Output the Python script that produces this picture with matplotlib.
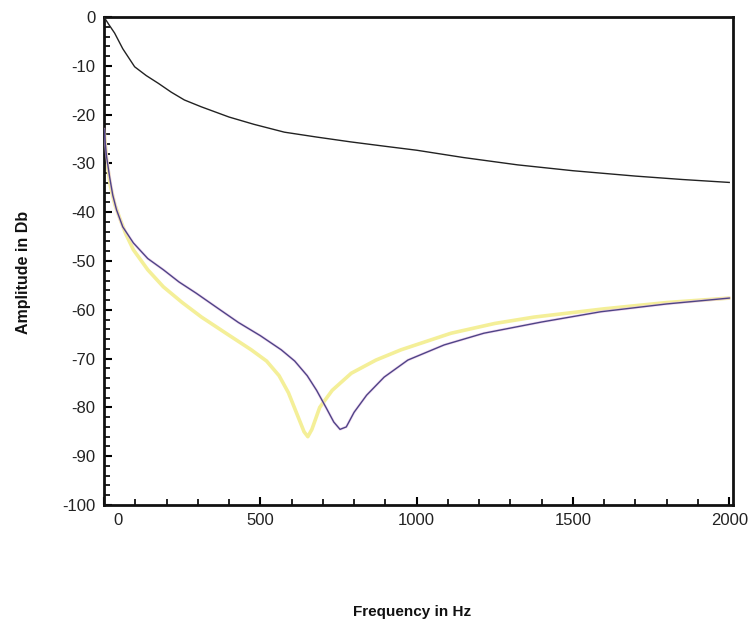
import matplotlib
matplotlib.use("Agg")
import matplotlib.pyplot as plt
from matplotlib.ticker import MultipleLocator
import matplotlib.transforms as mtransforms

plt.rcParams["axes.unicode_minus"] = False

# Black curve
black_f = [0, 15, 34, 60, 98, 135, 174, 215, 257, 311, 400, 480, 577, 680, 790, 900, 1000, 1150, 1323, 1500, 1700, 1850, 2000]
black_db = [0, -1.5, -3.3, -6.5, -10.2, -12.0, -13.6, -15.4, -17.0, -18.4, -20.5, -22.0, -23.6, -24.6, -25.6, -26.5, -27.3, -28.8, -30.3, -31.5, -32.6, -33.3, -33.9]

# Purple curve
purple_f = [0, 8, 18, 28, 40, 60, 94, 140, 190, 240, 295, 360, 430, 500, 567, 610, 650, 680, 710, 735, 755, 775, 800, 840, 896, 972, 1088, 1215, 1400, 1589, 1800, 2000]
purple_db = [-23.0, -28.5, -32.8, -36.5, -39.5, -43.0, -46.3, -49.5, -51.8, -54.3, -56.6, -59.5, -62.6, -65.3, -68.2, -70.5, -73.5, -76.5, -80.0, -83.0, -84.5, -84.0, -81.0, -77.5, -73.8, -70.3, -67.2, -64.8, -62.5, -60.4, -58.8, -57.6]

# Yellow curve
yellow_f = [0, 8, 20, 35, 49, 70, 94, 140, 190, 250, 312, 390, 471, 520, 560, 590, 615, 640, 652, 665, 690, 730, 791, 870, 950, 1110, 1250, 1375, 1600, 1802, 2000]
yellow_db = [-23.0, -29.0, -34.5, -38.5, -41.0, -44.5, -47.7, -51.8, -55.3, -58.5, -61.5, -64.8, -68.2, -70.5, -73.5, -77.0, -81.0, -85.0, -86.0, -84.5, -80.0, -76.5, -73.0, -70.3, -68.2, -64.8, -62.8, -61.5, -59.8, -58.5, -57.6]

x_ticks = [0, 500, 1000, 1500, 2000]
x_ticklabels = ["0", "500", "1000", "1500", "2000"]
y_ticks = list(range(-100, 1, 10))

fig = plt.figure(figsize=(7.54, 6.3), dpi=100)
ax = fig.add_axes([104/754, 1-505/630, (733-104)/754, (505-17)/630])

ax.plot(yellow_f, yellow_db, color="#f4ef98", lw=2.6, solid_capstyle="round",
        solid_joinstyle="round", zorder=2)
ax.plot(purple_f, purple_db, color="#e9c2ea", lw=2.0, zorder=3, alpha=0.6,
        solid_joinstyle="round")
ax.plot(purple_f, purple_db, color="#4e4486", lw=1.0, zorder=4, solid_joinstyle="round")
ax.plot(black_f, black_db, color="#222222", lw=1.0, zorder=4, solid_joinstyle="round")

ax.set_xlim(0, 2012)
ax.set_ylim(-100, 0)

ax.set_xticks(x_ticks)
ax.set_xticklabels(x_ticklabels)
ax.xaxis.set_minor_locator(MultipleLocator(100))
ax.set_yticks(y_ticks)
ax.yaxis.set_minor_locator(MultipleLocator(2))

ax.tick_params(axis="both", which="major", direction="in", length=6, width=1.5,
               labelsize=12, labelcolor="#222222", pad=6, top=False, right=False)
ax.tick_params(axis="both", which="minor", direction="in", length=4, width=1.2,
               top=False, right=False)

for lab in ax.get_xticklabels() + ax.get_yticklabels():
    lab.set_family(["Liberation Sans", "DejaVu Sans"])

# the "0" x tick label sits slightly right of its tick in the reference
lab0 = ax.get_xticklabels()[0]
lab0.set_transform(lab0.get_transform() + mtransforms.ScaledTranslation(14/100, 0, fig.dpi_scale_trans))

for s in ax.spines.values():
    s.set_linewidth(2.0)
    s.set_color("#111111")

fig.text(412/754, 1-612/630, "Frequency in Hz", ha="center", va="center",
         fontsize=11, fontweight="bold", family=["Liberation Sans Narrow", "Liberation Sans", "DejaVu Sans"],
         color="#111111")
fig.text(24/754, 1-272/630, "Amplitude in Db", ha="center", va="center", rotation=90,
         fontsize=11.5, fontweight="bold", family=["Liberation Sans Narrow", "Liberation Sans", "DejaVu Sans"],
         color="#111111")

fig.savefig("out.png", dpi=100)
